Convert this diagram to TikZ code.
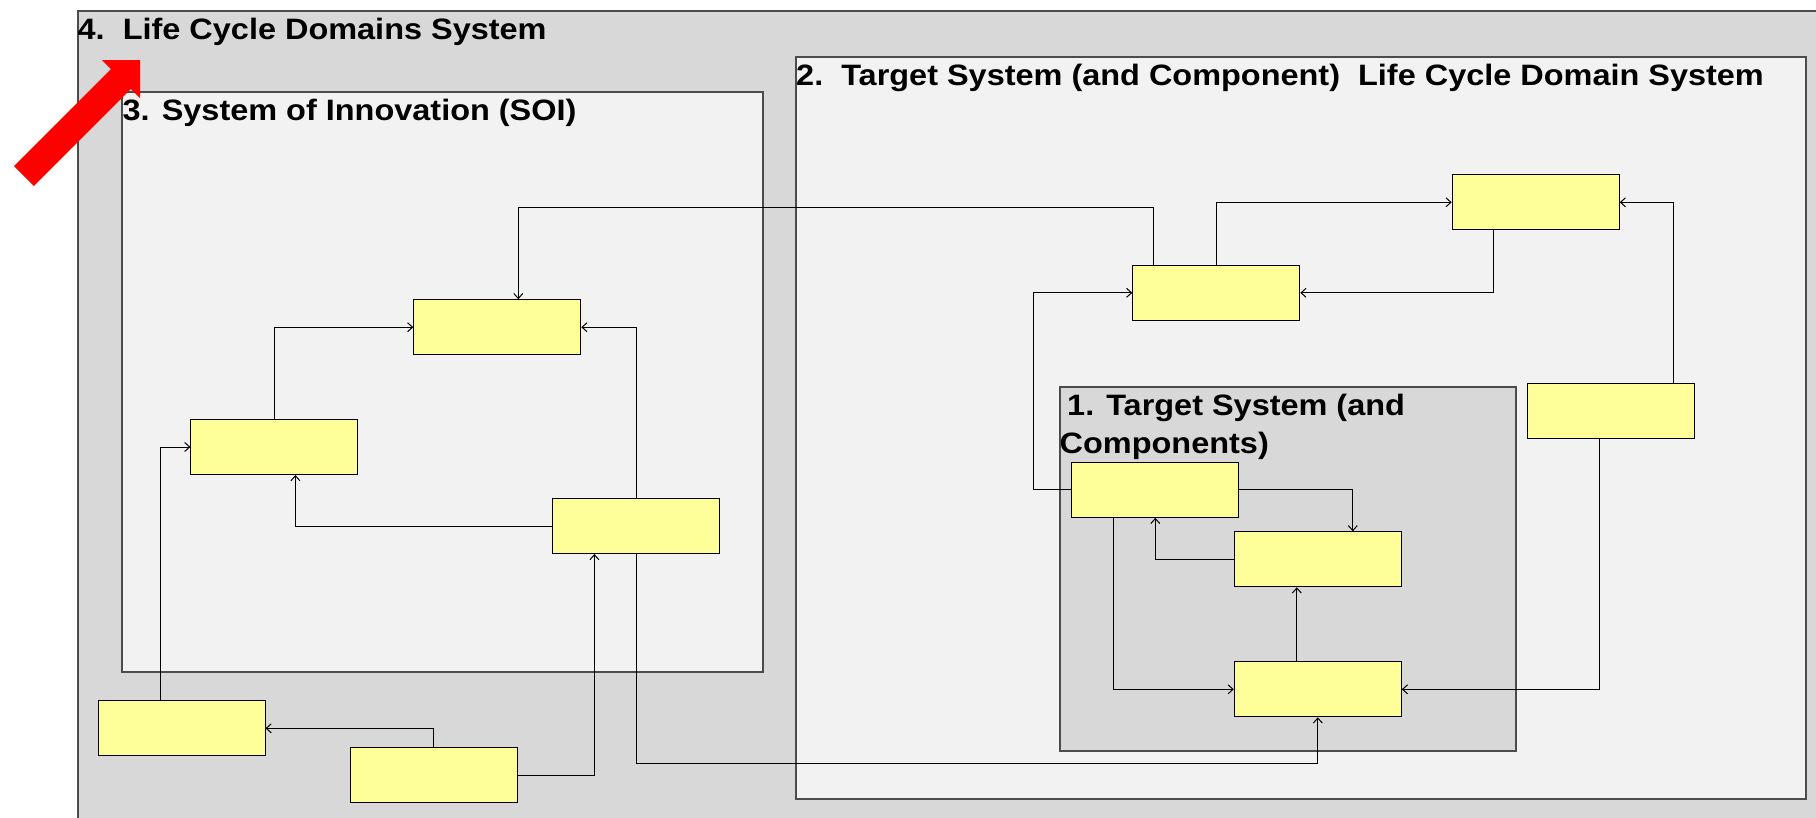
\documentclass[tikz,border=0pt]{standalone}
\usepackage{fontspec}
\newfontfamily\headfont[FakeStretch=1.1]{Liberation Sans}
\usepackage{tikz}
\usetikzlibrary{positioning,calc,arrows.meta}
\definecolor{mygray}{RGB}{216,216,216}
\definecolor{mylight}{RGB}{242,242,242}
\definecolor{myyellow}{RGB}{255,255,153}

\begin{document}
\begin{tikzpicture}[x=1pt,y=-1pt,
          frame/.style={draw=black!70,line width=1.5pt,anchor=north west,inner sep=0pt},
          ybox/.style={draw,fill=myyellow,line width=1pt,minimum width=167pt,minimum height=55pt,inner sep=0pt},
          title/.style={font=\headfont\bfseries\fontsize{29.5pt}{35pt}\selectfont,inner sep=0pt,anchor=base west},
          conn/.style={line width=1pt,-{Straight Barb[length=5pt,width=9pt]}}
          ]
          \useasboundingbox (0,0) rectangle (1816,817);
          \clip (0,0) rectangle (1816,817);
          % the frames
          \node[frame,fill=mygray,minimum width=1745pt,minimum height=812pt] (lcd) at (77,10) {};
          \node[frame,fill=mylight,minimum width=641pt,minimum height=580pt] (soi) at (121,91) {};
          \node[frame,fill=mylight,minimum width=1010pt,minimum height=742pt] (tlcd) at (795,56) {};
          \node[frame,fill=mygray,minimum width=456pt,minimum height=364pt] (ts) at (1059,386) {};
          % the titles
          \node[title] (lcdtitle) at (77.5,39.3) {4.\ \ Life Cycle Domains System};
          \node[title] (soititle) at (122.5,120) {3. System of Innovation (SOI)};
          \node[title] (tlcdtitle) at (796,85) {2.\ \ Target System (and Component)\ \ Life Cycle Domain System};
          \node[title] (tstitle) at (1067,415) {1. Target System (and};
          \node[title] (tstitleb) at (1059.5,453.3) {Components)};
          % the boxes of the SOI
          \node[ybox] (q1) at (497.3,327.2) {};
          \node[ybox] (q2) at (274.4,447) {};
          \node[ybox] (q3) at (636.4,526) {};
          % the boxes outside
          \node[ybox] (o1) at (181.5,728.3) {};
          \node[ybox] (o2) at (433.5,775) {};
          % the boxes of the life cycle domain
          \node[ybox] (l1) at (1216.3,292.8) {};
          \node[ybox] (l2) at (1535.7,202.3) {};
          \node[ybox] (l3) at (1611,411) {};
          % the boxes of the target system
          \node[ybox] (t1) at (1155.3,489.8) {};
          \node[ybox] (t2) at (1317.8,559.3) {};
          \node[ybox] (t3) at (1317.8,689.3) {};
          % the edges
          \draw[conn] ([xshift=-63pt]l1.north) -- ++(0,-57.7) -| ([xshift=21pt]q1.north);
          \draw[conn] (l1.north) |- (l2.west);
          \draw[conn] ([xshift=-42pt]l2.south) |- (l1.east);
          \draw[conn] ([xshift=62pt]l3.north) |- (l2.east);
          \draw[conn] (t1.west) -- ++(-38,0) |- (l1.west);
          \draw[conn] (t1.east) -| ([xshift=35pt]t2.north);
          \draw[conn] (t2.west) -| (t1.south);
          \draw[conn] ([xshift=-21pt]t3.north) -- ([xshift=-21pt]t2.south);
          \draw[conn] ([xshift=-42pt]t1.south) |- (t3.west);
          \draw[conn] ([xshift=-12pt]l3.south) |- (t3.east);
          \draw[conn] (q3.south) -- ++(0,209.7) -| (t3.south);
          \draw[conn] (q2.north) |- (q1.west);
          \draw[conn] (q3.north) |- (q1.east);
          \draw[conn] (q3.west) -| ([xshift=21pt]q2.south);
          \draw[conn] ([xshift=-21pt]o1.north) |- (q2.west);
          \draw[conn] (o2.north) |- (o1.east);
          \draw[conn] (o2.east) -| ([xshift=-42pt]q3.south);
          % the pointer
          \fill[red] (140,60) -- (102,60) -- (111.1,69.1) -- (14.1,166.1) -- (33.9,185.9)
            -- (130.9,88.9) -- (140,98) -- cycle;
        \end{tikzpicture}
\end{document}
